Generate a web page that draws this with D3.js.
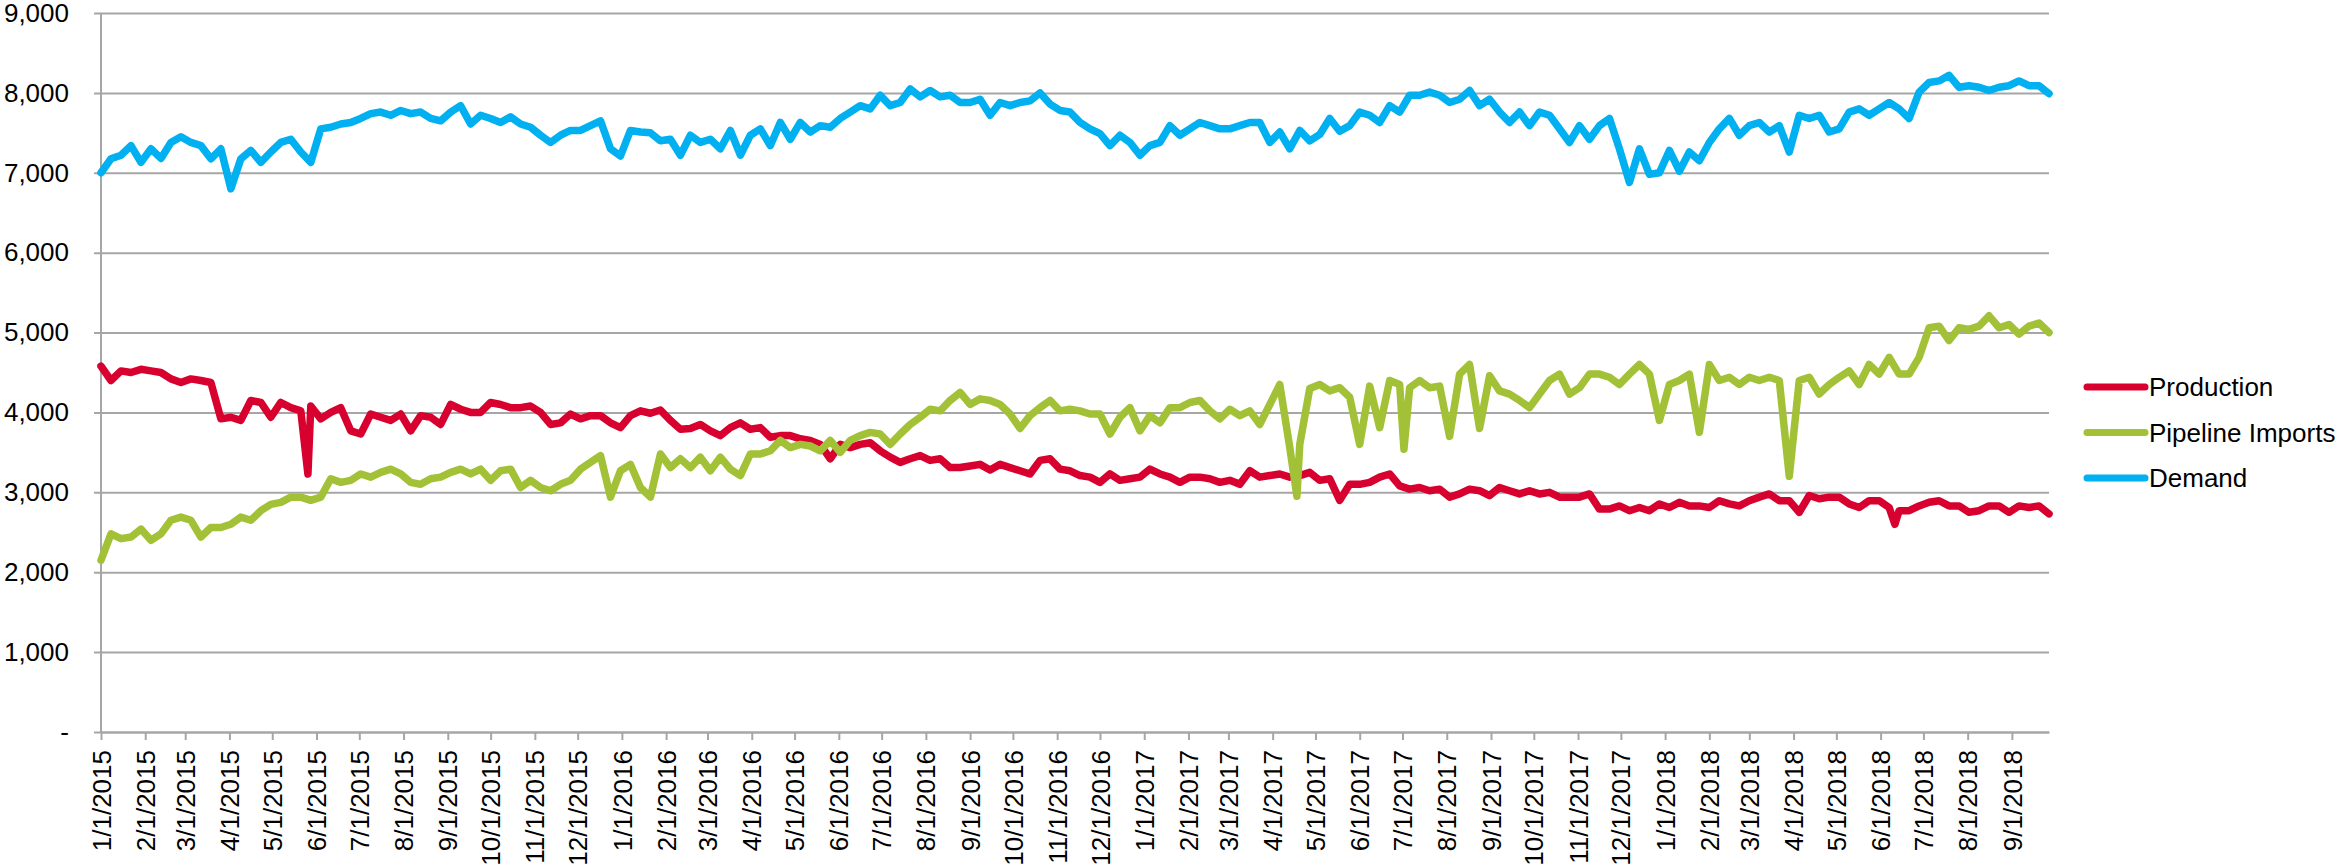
<!DOCTYPE html>
<html>
<head>
<meta charset="utf-8">
<script src="https://cdn.jsdelivr.net/npm/d3@7/dist/d3.min.js"></script>
<style>
body { margin: 0; background: #fff; }
text { font-family: "Liberation Sans", Arial, sans-serif; fill: #000; }
</style>
</head>
<body>
<div id="chart"></div>
<script>
//weekly readings, first one on 1/1/2015
var startDate = "2015-01-01";

var demand = [7000, 7175, 7220, 7340, 7130, 7300, 7180, 7380, 7450, 7380,
    7340, 7175, 7300, 6800, 7175, 7280, 7130, 7260, 7380, 7420,
    7260, 7130, 7550, 7570, 7610, 7630, 7680, 7740, 7760, 7720,
    7780, 7740, 7760, 7680, 7650, 7760, 7840, 7610, 7720, 7680,
    7630, 7700, 7610, 7570, 7470, 7380, 7470, 7530, 7530, 7590,
    7650, 7300, 7210, 7530, 7510, 7500, 7400, 7420, 7220, 7470,
    7380, 7420, 7300, 7530, 7220, 7470, 7550, 7340, 7630, 7420,
    7630, 7510, 7590, 7570, 7680, 7760, 7840, 7800, 7970, 7840,
    7880, 8050, 7950, 8030, 7950, 7970, 7880, 7880, 7920, 7720,
    7880, 7840, 7880, 7900, 8000, 7860, 7780, 7760, 7630, 7550,
    7490, 7340, 7470, 7380, 7220, 7340, 7380, 7590, 7470, 7550,
    7630, 7590, 7550, 7550, 7590, 7630, 7630, 7380, 7510, 7300,
    7530, 7400, 7480, 7680, 7520, 7590, 7760, 7720, 7630, 7840,
    7760, 7970, 7970, 8010, 7970, 7880, 7920, 8030, 7840, 7920,
    7760, 7630, 7760, 7590, 7760, 7720, 7550, 7380, 7590, 7420,
    7590, 7680, 7300, 6880, 7300, 6980, 7000, 7280, 7020, 7260,
    7150, 7380, 7550, 7680, 7470, 7590, 7630, 7510, 7590, 7260,
    7720, 7680, 7720, 7510, 7550, 7760, 7800, 7720, 7800, 7880,
    7800, 7680, 8010, 8130, 8150, 8220, 8070, 8090, 8070, 8030,
    8070, 8090, 8150, 8090, 8090, 7990];

var production = [4580, 4400, 4520, 4500, 4540, 4520, 4500, 4420, 4375, 4420,
    4400, 4375, 3920, 3940, 3900, 4150, 4125, 3940, 4125, 4060,
    4020, 4080, 3920, 4000, 4060, 3770, 3730, 3980, 3940, 3900,
    3980, 3770, 3960, 3940, 3850, 4100, 4040, 4000, 4000, 4125,
    4100, 4060, 4060, 4080, 4000, 3850, 3870, 3980, 3920, 3960,
    3960, 3870, 3810, 3960, 4020, 3990, 4030, 3900, 3790, 3800,
    3850, 3770, 3710, 3810, 3870, 3790, 3810, 3690, 3710, 3710,
    3670, 3650, 3600, 3420, 3600, 3560, 3600, 3620, 3520, 3440,
    3375, 3420, 3460, 3400, 3420, 3310, 3310, 3330, 3350, 3280,
    3350, 3310, 3270, 3230, 3400, 3420, 3290, 3270, 3210, 3190,
    3125, 3230, 3150, 3170, 3190, 3290, 3230, 3190, 3125, 3190,
    3190, 3170, 3125, 3150, 3100, 3270, 3190, 3210, 3230, 3190,
    3210, 3250, 3150, 3170, 2900, 3100, 3100, 3125, 3190, 3230,
    3080, 3040, 3060, 3020, 3040, 2940, 2980, 3040, 3020, 2960,
    3060, 3020, 2980, 3020, 2980, 3000, 2940, 2940, 2940, 2980,
    2790, 2790, 2830, 2770, 2810, 2770, 2855, 2810, 2875, 2830,
    2830, 2810, 2895, 2855, 2830, 2895, 2940, 2980, 2895, 2895,
    2750, 2960, 2920, 2940, 2940, 2855, 2810, 2895, 2895, 2810,
    2770, 2770, 2830, 2875, 2895, 2830, 2830, 2750, 2770, 2830,
    2830, 2750, 2830, 2810, 2830, 2730];

var imports = [2150, 2480, 2420, 2440, 2540, 2400, 2480, 2650, 2690, 2650,
    2440, 2560, 2560, 2600, 2690, 2650, 2770, 2850, 2875, 2940,
    2940, 2900, 2940, 3170, 3125, 3150, 3230, 3190, 3250, 3290,
    3230, 3125, 3100, 3170, 3190, 3250, 3290, 3230, 3290, 3150,
    3270, 3290, 3060, 3150, 3060, 3020, 3100, 3150, 3290, 3375,
    3460, 2940, 3270, 3350, 3060, 2940, 3480, 3310, 3420, 3310,
    3440, 3270, 3440, 3290, 3210, 3480, 3480, 3520, 3650, 3560,
    3600, 3580, 3520, 3650, 3500, 3650, 3710, 3750, 3730, 3600,
    3730, 3850, 3940, 4040, 4020, 4150, 4250, 4100, 4170, 4150,
    4100, 3980, 3800, 3960, 4060, 4150, 4020, 4040, 4020, 3980,
    3980, 3730, 3940, 4060, 3770, 3960, 3870, 4060, 4060, 4125,
    4150, 4020, 3920, 4040, 3960, 4020, 3850, 4100, 4350, 3560,
    3600, 4300, 4350, 4270, 4310, 4190, 3600, 4330, 3810, 4400,
    4350, 4310, 4400, 4310, 4330, 3700, 4480, 4600, 3800, 4460,
    4270, 4230, 4150, 4060, 4230, 4400, 4480, 4230, 4310, 4480,
    4480, 4440, 4350, 4480, 4600, 4480, 3900, 4350, 4400, 4480,
    3750, 4600, 4400, 4440, 4350, 4440, 4400, 4440, 4400, 3200,
    4400, 4440, 4230, 4350, 4440, 4520, 4350, 4600, 4480, 4690,
    4480, 4480, 4690, 5060, 5080, 4900, 5060, 5040, 5080, 5210,
    5060, 5100, 4980, 5080, 5120, 5000];

//short spikes that fall between the weekly readings
var productionSpikes = [["2015-05-26", 3230], ["2018-06-11", 2600]];
var importsSpikes = [["2017-04-18", 2950], ["2017-07-02", 3540]];

var seriesNames = ["Production", "Pipeline Imports", "Demand"];
var seriesColors = ["#d7002e", "#a3c136", "#00b0f0"];
var yTicks = [0, 1000, 2000, 3000, 4000, 5000, 6000, 7000, 8000, 9000];
var axisStart = "2015-01-01";
var axisEnd = "2018-09-27";

//svg and plot area
var svgWidth = 2341;
var svgHeight = 867;
var plot = { left: 101, right: 2049, top: 13, bottom: 732 };
var plotWidth = plot.right - plot.left;

var parseDate = d3.timeParse("%Y-%m-%d");
var start = parseDate(startDate);

function buildSeries(values, spikes) {
    var pts = values.map((v, i) => ({ date: d3.timeDay.offset(start, 7 * i), value: v }));
    spikes.forEach(s => pts.push({ date: parseDate(s[0]), value: s[1] }));
    pts.sort((a, b) => a.date - b.date);
    return pts;
}

var allSeries = [
    buildSeries(production, productionSpikes),
    buildSeries(imports, importsSpikes),
    buildSeries(demand, [])
];

var svg = d3.select("#chart").append("svg")
    .attr("width", svgWidth)
    .attr("height", svgHeight);

var xScale = d3.scaleTime()
    .domain([parseDate(axisStart), parseDate(axisEnd)])
    .range([plot.left, plot.right]);

var yScale = d3.scaleLinear()
    .domain([0, 9000])
    .range([plot.bottom, plot.top]);

//gridlines and y labels
var yAxis = d3.axisLeft(yScale)
    .tickValues(yTicks)
    .tickSize(-plotWidth)
    .tickFormat(d => d === 0 ? "-" : d3.format(",")(d));

var yGroup = svg.append("g")
    .attr("transform", `translate(${plot.left}, 0)`)
    .call(yAxis);
yGroup.select(".domain").remove();
yGroup.selectAll(".tick line")
    .attr("x1", -7)
    .attr("x2", plotWidth)
    .attr("stroke", "#a6a6a6")
    .attr("stroke-width", 2);
yGroup.selectAll(".tick text")
    .attr("x", -32)
    .style("font-size", "26px");

//vertical axis line
svg.append("line")
    .attr("x1", plot.left).attr("x2", plot.left)
    .attr("y1", plot.top).attr("y2", plot.bottom)
    .attr("stroke", "#a6a6a6")
    .attr("stroke-width", 2);

//x axis with monthly ticks
var xAxis = d3.axisBottom(xScale)
    .ticks(d3.timeMonth.every(1))
    .tickSize(8)
    .tickSizeOuter(0)
    .tickFormat(d3.timeFormat("%-m/%-d/%Y"));

var xGroup = svg.append("g")
    .attr("transform", `translate(0, ${plot.bottom})`)
    .call(xAxis);
xGroup.select(".domain")
    .attr("stroke", "#a6a6a6")
    .attr("stroke-width", 2);
xGroup.selectAll(".tick line")
    .attr("stroke", "#a6a6a6")
    .attr("stroke-width", 2);
xGroup.selectAll(".tick text")
    .attr("transform", "rotate(-90)")
    .attr("text-anchor", "end")
    .attr("x", -18)
    .attr("y", 0)
    .attr("dy", "0.35em")
    .style("font-size", "26px");

//series lines
var line = d3.line()
    .x(d => xScale(d.date))
    .y(d => yScale(d.value));

svg.selectAll(".series")
    .data(allSeries)
    .enter()
    .append("path")
    .classed("series", true)
    .attr("d", line)
    .attr("fill", "none")
    .attr("stroke", (d, i) => seriesColors[i])
    .attr("stroke-width", 7.5)
    .attr("stroke-linejoin", "round")
    .attr("stroke-linecap", "round");

//legend
var legend = svg.append("g")
    .attr("transform", "translate(2087, 387)");

var legendItem = legend.selectAll("g")
    .data(seriesNames)
    .enter()
    .append("g")
    .attr("transform", (d, i) => `translate(0, ${i * 45.5})`);

legendItem.append("line")
    .attr("x1", 0).attr("x2", 58)
    .attr("stroke", (d, i) => seriesColors[i])
    .attr("stroke-width", 7)
    .attr("stroke-linecap", "round");

legendItem.append("text")
    .attr("x", 62)
    .attr("dy", "0.35em")
    .style("font-size", "26px")
    .text(d => d);
</script>
</body>
</html>
